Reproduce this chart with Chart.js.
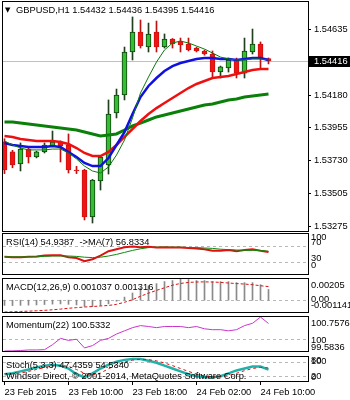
<!DOCTYPE html>
<html>
<head>
<meta charset="utf-8">
<script src="https://cdn.jsdelivr.net/npm/chart.js@4.4.1/dist/chart.umd.min.js"></script>
<style>
  html, body { margin: 0; padding: 0; background: #fff; }
  #wrap { position: relative; width: 350px; height: 400px; overflow: hidden; }
  #wrap canvas { position: absolute; left: 0; top: 0; }
</style>
</head>
<body>
<div id="wrap"></div>
<script>
// GBPUSD H1, 23-24 Feb 2015
const symbol = 'GBPUSD', period = 'H1';

const barTimes = [
  '23 Feb 02:00', '23 Feb 03:00', '23 Feb 04:00', '23 Feb 05:00', '23 Feb 06:00', '23 Feb 07:00',
  '23 Feb 08:00', '23 Feb 09:00', '23 Feb 10:00', '23 Feb 11:00', '23 Feb 12:00', '23 Feb 13:00',
  '23 Feb 14:00', '23 Feb 15:00', '23 Feb 16:00', '23 Feb 17:00', '23 Feb 18:00', '23 Feb 19:00',
  '23 Feb 20:00', '23 Feb 21:00', '23 Feb 22:00', '23 Feb 23:00', '24 Feb 00:00', '24 Feb 01:00',
  '24 Feb 02:00', '24 Feb 03:00', '24 Feb 04:00', '24 Feb 05:00', '24 Feb 06:00', '24 Feb 07:00',
  '24 Feb 08:00', '24 Feb 09:00', '24 Feb 10:00', '24 Feb 11:00'
];
const tickTimes  = ['23 Feb 02:00', '23 Feb 10:00', '23 Feb 18:00', '24 Feb 02:00', '24 Feb 10:00'];
const tickLabels = ['23 Feb 2015', '23 Feb 10:00', '23 Feb 18:00', '24 Feb 02:00', '24 Feb 10:00'];

const open  = [1.53858, 1.53789, 1.53706, 1.53809, 1.53754, 1.53789, 1.53830, 1.53858, 1.53837, 1.53665, 1.53665, 1.53342,
               1.53589, 1.53699, 1.54057, 1.54181, 1.54477, 1.54614, 1.54511, 1.54614, 1.54511, 1.54566, 1.54552, 1.54532,
               1.54504, 1.54484, 1.54463, 1.54339, 1.54367, 1.54422, 1.54332, 1.54477, 1.54532, 1.54432];
const high  = [1.53880, 1.53800, 1.53851, 1.53815, 1.53795, 1.53851, 1.53933, 1.53865, 1.53913, 1.53690, 1.53670, 1.53600,
               1.53760, 1.54147, 1.54222, 1.54511, 1.54718, 1.54697, 1.54676, 1.54690, 1.54601, 1.54570, 1.54573, 1.54573,
               1.54510, 1.54490, 1.54484, 1.54380, 1.54435, 1.54435, 1.54573, 1.54635, 1.54546, 1.54436];
const low   = [1.53640, 1.53680, 1.53658, 1.53713, 1.53748, 1.53782, 1.53825, 1.53720, 1.53644, 1.53640, 1.53321, 1.53300,
               1.53527, 1.53637, 1.54023, 1.54147, 1.54422, 1.54504, 1.54477, 1.54477, 1.54504, 1.54504, 1.54477, 1.54484,
               1.54477, 1.54455, 1.54298, 1.54298, 1.54339, 1.54298, 1.54298, 1.54463, 1.54367, 1.54395];
const close = [1.53665, 1.53699, 1.53809, 1.53754, 1.53789, 1.53837, 1.53858, 1.53830, 1.53665, 1.53660, 1.53342, 1.53596,
               1.53754, 1.54050, 1.54181, 1.54477, 1.54614, 1.54518, 1.54601, 1.54511, 1.54566, 1.54532, 1.54525, 1.54491,
               1.54484, 1.54463, 1.54339, 1.54374, 1.54422, 1.54332, 1.54484, 1.54532, 1.54435, 1.54416];

// moving averages on the price chart
const maFast  = [1.53864, 1.53837, 1.53816, 1.53803, 1.53803, 1.53803, 1.53809, 1.53809, 1.53782, 1.53741, 1.53692, 1.53658,
                 1.53644, 1.53686, 1.53768, 1.53871, 1.54023, 1.54195, 1.54305, 1.54408, 1.54491, 1.54539, 1.54552, 1.54539,
                 1.54518, 1.54497, 1.54470, 1.54442, 1.54429, 1.54422, 1.54422, 1.54429, 1.54429, 1.54422];
const maBlue  = [1.53851, 1.53837, 1.53830, 1.53823, 1.53823, 1.53823, 1.53830, 1.53823, 1.53789, 1.53754, 1.53713, 1.53692,
                 1.53692, 1.53747, 1.53837, 1.53926, 1.54050, 1.54167, 1.54243, 1.54298, 1.54346, 1.54380, 1.54401, 1.54415,
                 1.54429, 1.54435, 1.54435, 1.54429, 1.54429, 1.54422, 1.54429, 1.54435, 1.54435, 1.54422];
const maRed   = [1.53899, 1.53892, 1.53878, 1.53871, 1.53864, 1.53864, 1.53864, 1.53858, 1.53844, 1.53816, 1.53782, 1.53761,
                 1.53761, 1.53789, 1.53837, 1.53892, 1.53947, 1.54002, 1.54050, 1.54091, 1.54126, 1.54160, 1.54195, 1.54229,
                 1.54257, 1.54277, 1.54298, 1.54305, 1.54312, 1.54325, 1.54339, 1.54353, 1.54360, 1.54360];
const maGreen = [1.53995, 1.53995, 1.53988, 1.53981, 1.53975, 1.53968, 1.53961, 1.53954, 1.53947, 1.53940, 1.53926, 1.53913,
                 1.53899, 1.53906, 1.53913, 1.53940, 1.53968, 1.53988, 1.54009, 1.54030, 1.54043, 1.54057, 1.54071, 1.54085,
                 1.54098, 1.54112, 1.54119, 1.54133, 1.54147, 1.54153, 1.54167, 1.54174, 1.54181, 1.54188];
const priceTicks = [1.54635, 1.54180, 1.53955, 1.53730, 1.53505, 1.53275];

// RSI(14) and its MA(7)
const rsi   = [43, 42, 42, 43, 44, 46, 47, 47, 42, 40, 32, 37, 46, 57, 62, 67, 69, 67, 68, 66, 67, 66, 66, 65,
               64, 62, 58, 58, 60, 57, 60, 62, 58, 54.9387];
const rsiMa = [43, 43, 43, 43, 43, 44, 45, 45, 45, 44, 42, 41, 42, 45, 49, 54, 59, 63, 66, 67, 67, 67, 67, 66,
               66, 65, 64, 62, 61, 60, 59, 59, 59, 56.8334];
const rsiTicks = [100, 70, 30, 0], rsiLevels = [70, 30];

// MACD(12,26,9)
const macd   = [-0.00050, -0.00052, -0.00050, -0.00048, -0.00046, -0.00042, -0.00038, -0.00036, -0.00040, -0.00046,
                -0.00060, -0.00062, -0.00052, -0.00035, -0.00010, 0.00030, 0.00070, 0.00120, 0.00140, 0.00160,
                0.00180, 0.00190, 0.00205, 0.00200, 0.00190, 0.00190, 0.00180, 0.00180, 0.00180, 0.00170,
                0.00170, 0.00170, 0.00150, 0.001037];
const signal = [-0.001141, -0.00112, -0.00109, -0.00106, -0.00102, -0.00098, -0.00093, -0.00086, -0.00078, -0.00072,
                -0.00066, -0.00061, -0.00056, -0.00051, -0.00040, -0.00020, 0.00005, 0.00038, 0.00068, 0.00095,
                0.00120, 0.00145, 0.00162, 0.00172, 0.00176, 0.00177, 0.00176, 0.00172, 0.00166, 0.00161,
                0.00156, 0.00150, 0.00140, 0.001316];
const macdTicks = [0.00205, 0, -0.001141], macdTickLabels = ['0.00205', '0.00', '-0.001141'];

// Momentum(22)
const momentum = [99.5836, 99.59, 99.60, 99.62, 99.62, 99.63, 99.80, 100.02, 99.95, 99.99, 99.69, 99.77, 99.95, 100.02,
                  100.17, 100.28, 100.39, 100.46, 100.43, 100.39, 100.43, 100.43, 100.43, 100.39, 100.43, 100.35,
                  100.32, 100.32, 100.28, 100.32, 100.46, 100.54, 100.7576, 100.5332];
const momTicks = [100.7576, 100, 99.5836], momLevels = [100];

// Stochastic(5,3,3)
const stoch    = [28, 32, 40, 48, 56, 64, 68, 64, 52, 28, 16, 32, 52, 68, 80, 88, 92, 92, 84, 76, 64, 52, 40, 28,
                  20, 16, 16, 20, 32, 44, 52, 60, 60, 47.4359];
const stochSig = [30, 30, 33, 40, 48, 56, 63, 65, 61, 48, 32, 25, 33, 51, 67, 79, 87, 91, 89, 84, 75, 64, 52, 40,
                  29, 21, 17, 17, 23, 32, 43, 52, 57, 54.5340];
const stochTicks = [100, 80, 20, 0], stochLevels = [80, 20];

const last = close.length - 1;
const FONT = { family: '"Liberation Sans", Arial, sans-serif', size: 9.3 };
const X_MIN = -0.1875, X_MAX = 37.9375;

const wrap = document.getElementById('wrap');
function makeCanvas() {
  const c = document.createElement('canvas');
  c.width = 350; c.height = 400;
  wrap.appendChild(c);
  return c;
}
const pts = arr => arr.map((v, i) => ({ x: i, y: v }));

// frame, level lines, header texts, side labels, current price marker
const panel = {
  id: 'panel',
  beforeDatasetsDraw(chart, args, o) {
    const { ctx, chartArea: a } = chart, y = chart.scales.y;
    ctx.save();
    ctx.lineWidth = 1;
    ctx.strokeStyle = '#b8b8b8';
    ctx.setLineDash([3, 3]);
    (o.levels || []).forEach(v => {
      const py = Math.round(y.getPixelForValue(v)) + 0.5;
      ctx.beginPath(); ctx.moveTo(a.left, py); ctx.lineTo(a.right, py); ctx.stroke();
    });
    if (o.price != null) {
      ctx.setLineDash([]);
      ctx.strokeStyle = '#c0c0c0';
      const py = Math.round(y.getPixelForValue(o.price)) + 0.5;
      ctx.beginPath(); ctx.moveTo(a.left, py); ctx.lineTo(a.right, py); ctx.stroke();
    }
    ctx.restore();
  },
  afterDraw(chart, args, o) {
    const { ctx, chartArea: a } = chart, y = chart.scales.y;
    ctx.save();
    ctx.strokeStyle = '#000';
    ctx.lineWidth = 1;
    ctx.strokeRect(a.left - 0.5, a.top - 0.5, a.right - a.left + 1, a.bottom - a.top + 1);
    ctx.fillStyle = '#000';
    ctx.font = FONT.size + 'px ' + FONT.family;
    ctx.textBaseline = 'middle';
    (o.texts || []).forEach((t, i) => ctx.fillText(t, a.left + (o.indent || 3), a.top + 8 + i * 11));
    if (o.side) {
      o.side.values.forEach((v, i) => {
        ctx.fillText(o.side.labels[i], a.right + 3, y.getPixelForValue(v) + o.side.dy[i]);
      });
    }
    if (o.arrow) {
      ctx.font = '7px "DejaVu Sans"';
      ctx.fillText('\u25BC', a.left + 2, a.top + 8);
    }
    if (o.price != null) {
      const py = Math.round(y.getPixelForValue(o.price));
      ctx.fillRect(a.right + 1, py - 5, 42, 11);
      ctx.fillStyle = '#fff';
      ctx.font = FONT.size + 'px ' + FONT.family;
      ctx.fillText(o.price.toFixed(5), a.right + 6, py + 0.5);
    }
    ctx.restore();
  }
};
Chart.register(panel);

function yAxis(min, max, ticks, labels, showLabels) {
  return {
    position: 'right', min: min, max: max,
    afterFit: s => { s.width = 42; s.paddingTop = 0; s.paddingBottom = 0; },
    afterBuildTicks: s => { s.ticks = ticks.map(v => ({ value: v })); },
    ticks: { display: showLabels, autoSkip: false, padding: 3, color: '#000', font: FONT, callback: (v, i) => labels[i] },
    grid: { drawOnChartArea: false, drawTicks: true, tickLength: 3, tickColor: '#000' },
    border: { display: false }
  };
}
const xHidden = { type: 'linear', display: false, min: X_MIN, max: X_MAX, offset: false };

function base(top, bottom, scales, plug) {
  return {
    responsive: false, animation: false, devicePixelRatio: 1, events: [],
    layout: { padding: { left: 3, right: 0, top: top, bottom: bottom } },
    scales: scales,
    elements: { point: { radius: 0 }, line: { tension: 0 } },
    plugins: { legend: { display: false }, tooltip: { enabled: false }, panel: plug }
  };
}

// ---- price chart
const bull = close.map((c, i) => c >= open[i]);
new Chart(makeCanvas(), {
  type: 'bar',
  data: {
    datasets: [
      { type: 'line', data: pts(maFast), borderColor: '#0a7a0a', borderWidth: 1, order: 0 },
      { type: 'line', data: pts(maBlue), borderColor: '#1010e0', borderWidth: 2.5, order: 1 },
      { type: 'line', data: pts(maRed), borderColor: '#ee1010', borderWidth: 2.5, order: 2 },
      { type: 'line', data: pts(maGreen), borderColor: '#0a800a', borderWidth: 3, order: 3 },
      { type: 'bar', data: open.map((o, i) => ({ x: i, y: [o, close[i]] })),
        backgroundColor: bull.map(b => b ? '#32c032' : '#ee1515'),
        borderColor: bull.map(b => b ? '#104010' : '#d01010'),
        borderWidth: 1, borderSkipped: false, barThickness: 5, grouped: false, order: 4 },
      { type: 'bar', data: low.map((l, i) => ({ x: i, y: [l, high[i]] })),
        backgroundColor: bull.map(b => b ? '#204020' : '#c01010'),
        barThickness: 1, grouped: false, order: 5 }
    ]
  },
  options: base(2, 169, {
    x: xHidden,
    y: yAxis(1.53245, 1.54821, priceTicks, priceTicks.map(v => v.toFixed(5)), true)
  }, {
    price: close[last], arrow: true, indent: 13,
    texts: [symbol + ',' + period + ' ' + [open[last], high[last], low[last], close[last]].map(v => v.toFixed(5)).join(' ')]
  })
});

// ---- RSI
new Chart(makeCanvas(), {
  type: 'line',
  data: { datasets: [
    { data: pts(rsiMa), borderColor: '#0a8a0a', borderWidth: 1 },
    { data: pts(rsi), borderColor: '#e01010', borderWidth: 2 }
  ]},
  options: base(234, 126, { x: xHidden, y: yAxis(0, 100, rsiTicks, [], false) }, {
    levels: rsiLevels,
    side: { values: rsiTicks, labels: rsiTicks.map(String), dy: [3.5, -4, -3.5, -9] },
    texts: ['RSI(14) ' + rsi[last].toFixed(4) + '  ->MA(7) ' + rsiMa[last].toFixed(4)]
  })
});

// ---- MACD
new Chart(makeCanvas(), {
  type: 'bar',
  data: { datasets: [
    { type: 'line', data: pts(signal), borderColor: '#e01010', borderWidth: 1, borderDash: [3, 2], order: 0 },
    { type: 'bar', data: pts(macd), backgroundColor: '#8a8a8a', barThickness: 1, grouped: false, order: 1 }
  ]},
  options: base(279, 88, { x: xHidden, y: yAxis(-0.001141, 0.00205, macdTicks, [], false) }, {
    levels: [0],
    side: { values: macdTicks, labels: macdTickLabels, dy: [6, -1, -7] },
    texts: ['MACD(12,26,9) ' + macd[last].toFixed(6) + ' ' + signal[last].toFixed(6)]
  })
});

// ---- Momentum
new Chart(makeCanvas(), {
  type: 'line',
  data: { datasets: [
    { data: pts(momentum), borderColor: '#cc33cc', borderWidth: 1 }
  ]},
  options: base(317, 49, { x: xHidden, y: yAxis(99.5836, 100.7576, momTicks, [], false) }, {
    levels: momLevels,
    side: { values: momTicks, labels: momTicks.map(String), dy: [6, 1, -3.5] },
    texts: ['Momentum(22) ' + momentum[last].toFixed(4)]
  })
});

// ---- Stochastic + time axis
const tickIdx = tickTimes.map(t => barTimes.indexOf(t));
new Chart(makeCanvas(), {
  type: 'line',
  data: { datasets: [
    { data: pts(stochSig), borderColor: '#e01010', borderWidth: 1, borderDash: [3, 3] },
    { data: pts(stoch), borderColor: '#20b2aa', borderWidth: 2.5 }
  ]},
  options: base(357, 0, {
    x: {
      type: 'linear', position: 'bottom', min: X_MIN, max: X_MAX, offset: false,
      afterFit: s => { s.height = 19; s.paddingLeft = 0; s.paddingRight = 0; },
      afterBuildTicks: s => { s.ticks = tickIdx.map(v => ({ value: v })); },
      ticks: { autoSkip: false, maxRotation: 0, align: 'start', padding: 2, color: '#000', font: FONT,
               callback: (v, i) => tickLabels[i] },
      grid: { drawOnChartArea: false, drawTicks: true, tickLength: 4, tickColor: '#000', offset: false },
      border: { display: false }
    },
    y: yAxis(0, 100, stochTicks, [], false)
  }, {
    levels: stochLevels,
    side: { values: stochTicks, labels: stochTicks.map(String), dy: [4, -1, 0, -3.5] },
    texts: ['Stoch(5,3,3) ' + stoch[last].toFixed(4) + ' ' + stochSig[last].toFixed(4),
            'Windsor Direct, \u00A9 2001-2014, MetaQuotes Software Corp.']
  })
});
</script>
</body>
</html>
